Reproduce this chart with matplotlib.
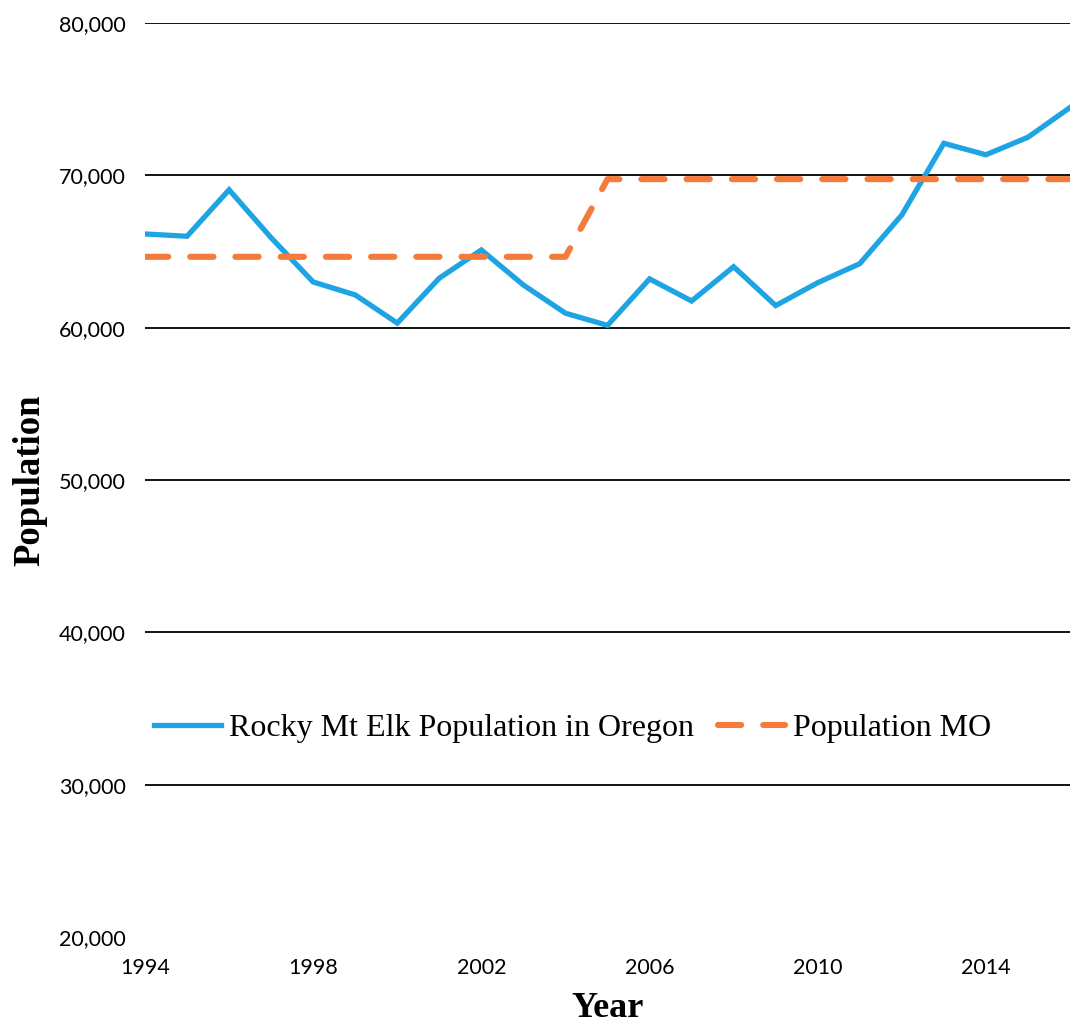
import matplotlib.pyplot as plt
from matplotlib.ticker import FuncFormatter

# Elk counts by year
years = list(range(1994, 2017))
elk_oregon = [66150, 66000, 69050, 65900, 63000, 62150, 60300, 63250, 65100, 62800,
              60950, 60150, 63200, 61750, 64000, 61450, 62950, 64200, 67400, 72100,
              71350, 72500, 74450]
# Management objective
population_mo = [64650] * 11 + [69750] * 12

y_ticks = [20000, 30000, 40000, 50000, 60000, 70000, 80000]
x_ticks = [1994, 1998, 2002, 2006, 2010, 2014]

blue = '#1ea4e3'
orange = '#f47b3b'

fig = plt.figure(figsize=(10.7, 10.36), dpi=100)
ax = fig.add_axes([0.1355, 0.0956, 0.8645, 0.8822])

ax.plot(years, elk_oregon, color=blue, linewidth=3.8,
        label='Rocky Mt Elk Population in Oregon', solid_joinstyle='miter')
ax.plot(years, population_mo, color=orange, linewidth=4.4, linestyle=(0, (3.8, 3.6)),
        dash_capstyle='round', label='Population MO')

ax.set_xlim(1994, 2016)
ax.set_ylim(20000, 80000)
ax.set_yticks(y_ticks)
ax.set_xticks(x_ticks)
ax.yaxis.set_major_formatter(FuncFormatter(lambda v, p: f'{int(v):,}'))

for s in ax.spines.values():
    s.set_visible(False)
ax.tick_params(length=0, labelsize=15.5)
ax.tick_params(axis='y', pad=14)
ax.tick_params(axis='x', pad=15)
for lbl in ax.get_xticklabels() + ax.get_yticklabels():
    lbl.set_fontfamily('Lato')

ax.yaxis.grid(True, color='black', linewidth=1.3)
ax.set_axisbelow(True)
ax.get_ygridlines()[0].set_visible(False)

ax.set_ylabel('Population', fontfamily='Liberation Serif', fontweight='bold', fontsize=26.5)
ax.yaxis.set_label_coords(-0.106, 0.5)
ax.set_xlabel('Year', fontfamily='Liberation Serif', fontweight='bold',
              fontsize=26, labelpad=10)

leg = ax.legend(loc='center', bbox_to_anchor=(0.462, 0.228), ncol=2, frameon=False,
                prop={'family': 'Liberation Serif', 'size': 23},
                handlelength=2.1, handletextpad=0.25, columnspacing=0.75)

plt.savefig('out.png', dpi=100)
